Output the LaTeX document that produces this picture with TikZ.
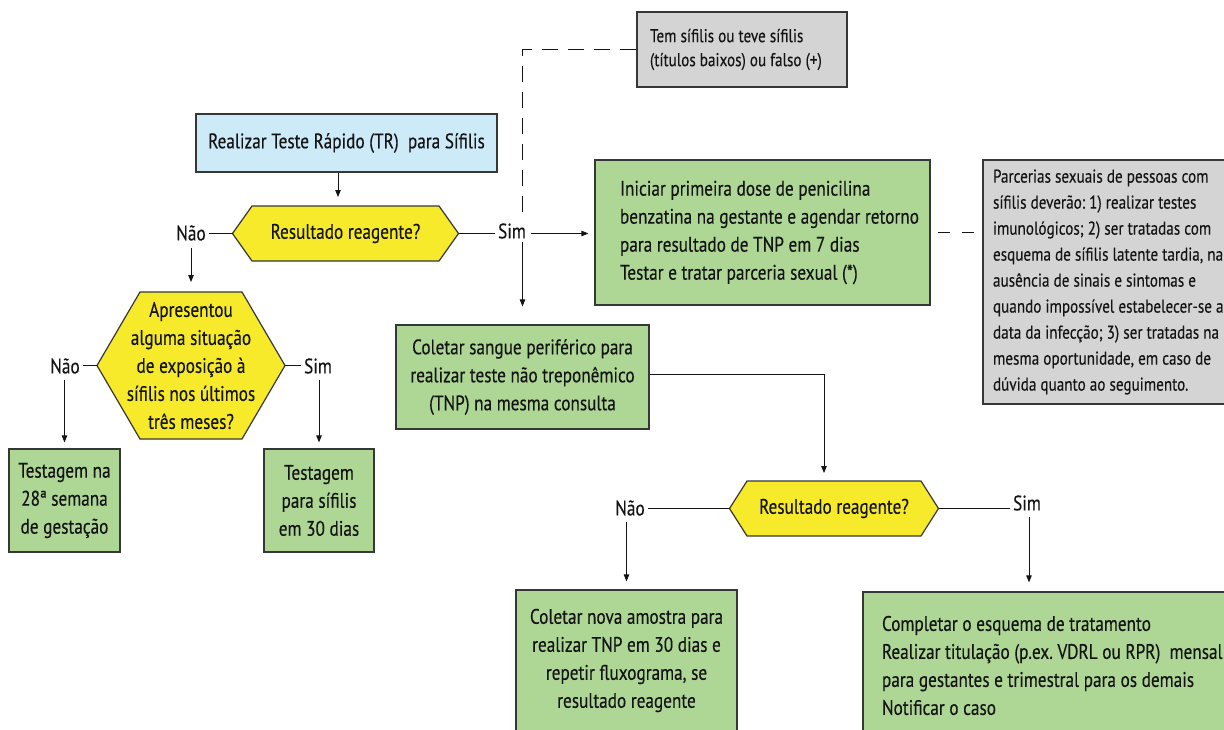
\documentclass[tikz,border=0pt]{standalone}
\usepackage{fontspec}
\setmainfont{PT Sans}[FakeStretch=0.82, FakeBold=0.3]
\usetikzlibrary{calc,arrows.meta}
\definecolor{bluefill}{RGB}{205,234,249}
\definecolor{yel}{RGB}{246,234,42}
\definecolor{grn}{RGB}{174,214,148}
\definecolor{gry}{RGB}{212,212,212}
\definecolor{edge}{RGB}{55,55,55}
\definecolor{txt}{RGB}{20,20,20}
\frenchspacing
\newcommand\ml[1]{\mbox{#1}}
\newcommand\myhex[6]{%
  \draw[hexs] (#2-#4-#6,#3) coordinate (#1w) -- (#2-#4,#3-#5) -- (#2+#4,#3-#5)
    -- (#2+#4+#6,#3) coordinate (#1e) -- (#2+#4,#3+#5) -- (#2-#4,#3+#5) -- cycle;
  \coordinate (#1n) at (#2,#3-#5);
  \coordinate (#1s) at (#2,#3+#5);}
\begin{document}
\begin{tikzpicture}[x=1pt,y=-1pt,
  font=\fontsize{21}{28}\selectfont, text=txt,
  execute at begin node={\spaceskip=0.22em plus 0.1em minus 0.05em\relax},
  box/.style={draw=edge, line width=1.2pt, inner sep=0pt, align=center},
  hexs/.style={draw=edge, line width=1.2pt, fill=yel},
  lbl/.style={inner xsep=3pt, inner ysep=3pt},
  htxt/.style={inner sep=0pt, align=center},
  ln/.style={line width=0.9pt, draw=txt},
  arr/.style={line width=0.9pt, draw=txt, -{Triangle[length=7pt,width=5.5pt]}},
  dsh/.style={line width=0.9pt, draw=txt, dash pattern=on 16pt off 10pt}]
\useasboundingbox (0,0) rectangle (1224,729);
\clip (0,0) rectangle (1224,729);
\fill[white] (0,0) rectangle (1224,729);

% boxes
\node[box, fill=gry, minimum width=210, minimum height=75, text width=184, inner xsep=13pt,
  align=left, font=\fontsize{18.5}{24}\selectfont] (gtop) at (742,49.5)
  {\ml{Tem sífilis ou teve sífilis}\\\ml{(títulos baixos) ou falso (+)}};
\node[box, fill=bluefill, minimum width=301, minimum height=58] (tr) at (346.5,143)
  {Realizar Teste Rápido (TR)~ para Sífilis};
\node[box, fill=grn, minimum width=335, minimum height=145, text width=285, inner xsep=25pt,
  align=left] (ini) at (762.5,232.5)
  {\ml{Iniciar primeira dose de penicilina}\\\ml{benzatina na gestante e agendar retorno}\\\ml{para resultado de TNP em 7 dias}\\\ml{Testar e tratar parceria sexual (*)}};
\node[box, fill=gry, minimum width=320, minimum height=244, text width=300, inner xsep=10pt,
  align=left, font=\fontsize{18.5}{26}\selectfont] (g2) at (1143,282)
  {\ml{Parcerias sexuais de pessoas com}\\\ml{sífilis deverão: 1) realizar testes}\\\ml{imunológicos; 2) ser tratadas com}\\\ml{esquema de sífilis latente tardia, na}\\\ml{ausência de sinais e sintomas e}\\\ml{quando impossível estabelecer-se a}\\\ml{data da infecção; 3) ser tratadas na}\\\ml{mesma oportunidade, em caso de}\\\ml{dúvida quanto ao seguimento.}};
\node[box, fill=grn, minimum width=253, minimum height=104] (col) at (522.5,377)
  {Coletar sangue periférico para\\realizar teste não treponêmico\\(TNP) na mesma consulta};
\node[box, fill=grn, minimum width=111, minimum height=103] (testa) at (64.5,500.5)
  {Testagem na\\28ª semana\\de gestação};
\node[box, fill=grn, minimum width=110, minimum height=103] (testb) at (319,500.5)
  {Testagem\\para sífilis\\em 30 dias};
\node[box, fill=grn, minimum width=221, minimum height=141] (nova) at (626.5,660.5)
  {Coletar nova amostra para\\realizar TNP em 30 dias e\\repetir fluxograma, se\\resultado reagente};
\node[box, fill=grn, minimum width=368, minimum height=147, text width=330, inner xsep=19pt,
  align=left] (comp) at (1047,665.5)
  {\ml{Completar o esquema de tratamento}\\\ml{Realizar titulação (p.ex. VDRL ou RPR)~ mensal}\\\ml{para gestantes e trimestral para os demais}\\\ml{Notificar o caso}};

% decisions
\myhex{h1}{345.5}{233.5}{93.5}{27.5}{19.5}
\node[htxt] (q1) at (345.5,233.5) {Resultado reagente?};
\myhex{h2}{191}{365.5}{51}{73.5}{43}
\node[htxt] (q2) at (191,365.5) {Apresentou\\alguma situação\\de exposição à\\sífilis nos últimos\\três meses?};
\myhex{h3}{834}{508.5}{87}{27.5}{17.5}
\node[htxt] (q3) at (834,508.5) {Resultado reagente?};

% labels
\node[lbl] (n1) at (191,233) {Não};
\node[lbl] (s1) at (512,231) {Sim};
\node[lbl] (n2) at (65,366) {Não};
\node[lbl] (s2) at (318,366) {Sim};
\node[lbl] (n3) at (630,508) {Não};
\node[lbl] (s3) at (1027,503) {Sim};

% connectors
\draw[arr, shorten >=9pt] ([xshift=-8.5pt]tr.south) -- ([xshift=-8.5pt]tr.south |- h1n);
\draw[ln] (h1w) -- (h1w -| n1.east);
\draw[ln] (h1e) -- (h1e -| s1.west);
\draw[arr, shorten <=2pt, shorten >=6pt] (h1e -| s1.east) -- (h1e -| ini.west);
\draw[arr, shorten >=18pt] (s1.south -| col.north) -- (col.north);
\draw[dsh] (gtop.west) -| ([yshift=5pt]s1.north -| col.north);
\draw[ln, dash pattern=on 12pt off 12pt, dash phase=17pt] (ini.east) -- (ini.east -| g2.west);
\draw[arr, shorten <=4pt, shorten >=10pt] (n1.south) -- (n1.south |- h2n);
\draw[ln] (h2w) -- (h2w -| n2.east);
\draw[ln] (h2e) -- (h2e -| s2.west);
\draw[arr, shorten <=3pt, shorten >=6pt] (n2.south -| testa.north) -- (testa.north);
\draw[arr, shorten <=3pt, shorten >=6pt] (s2.south -| testb.north) -- (testb.north);
\draw[arr, shorten >=8pt] ([yshift=3pt]col.east) -| ([xshift=-10pt]h3n);
\draw[ln] (h3w) -- (h3w -| n3.east);
\draw[ln] (h3e) -- (h3e -| s3.west);
\draw[arr, shorten <=3pt, shorten >=8pt] (n3.south -| nova.north) -- (nova.north);
\draw[arr, shorten <=3pt, shorten >=9pt] ([xshift=2pt]s3.south) -- ([xshift=2pt]s3.south |- comp.north);
\end{tikzpicture}
\end{document}
